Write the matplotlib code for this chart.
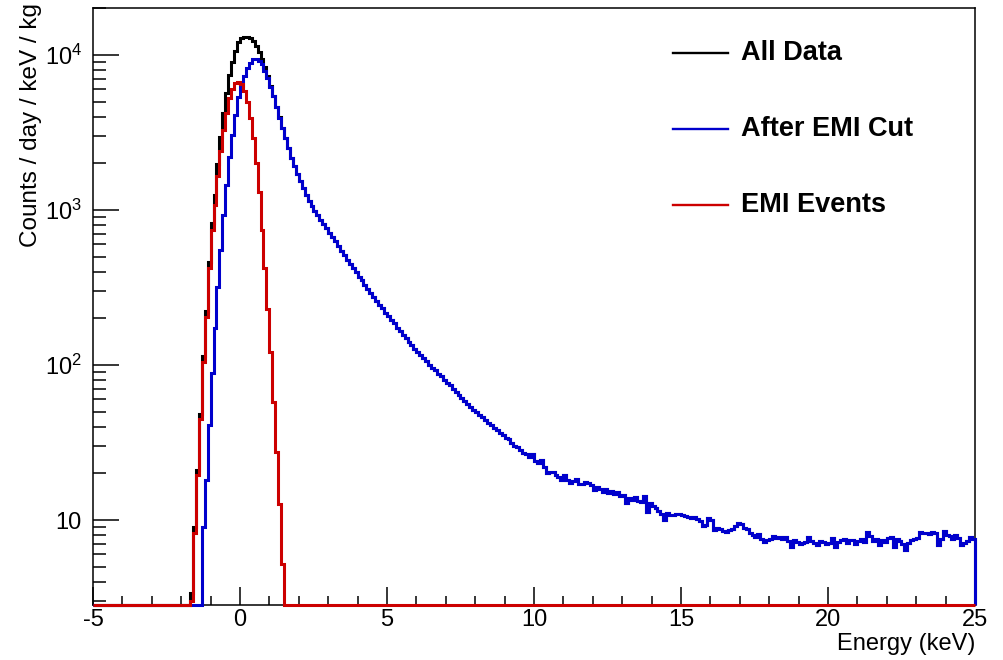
import numpy as np
import matplotlib
matplotlib.use("Agg")
import matplotlib.pyplot as plt
from matplotlib.ticker import FixedLocator, FixedFormatter, NullFormatter

plt.rcParams['font.family'] = ['Liberation Sans', 'DejaVu Sans']
plt.rcParams['mathtext.fontset'] = 'custom'
plt.rcParams['mathtext.rm'] = 'Liberation Sans'
plt.rcParams['mathtext.it'] = 'Liberation Sans:italic'
plt.rcParams['mathtext.bf'] = 'Liberation Sans:bold'
plt.rcParams['axes.unicode_minus'] = False

# ---------------- data ----------------
energy_min_keV = -5.0
energy_max_keV = 25.0
bin_width_keV = 0.1

# EMI events: first bin starts at -1.7 keV
emi_start_keV = -1.7
emi_events = [3.0, 8.2, 19.5, 45, 105, 205, 420, 740, 1070, 1650,
              2400, 3300, 4250, 5250, 6000, 6550, 6700, 6500, 5850, 4950,
              3900, 2900, 2000, 1300, 743, 423, 230, 121, 58, 27.5,
              12.7, 5.2]

# After EMI cut: first bin starts at -1.3 keV
after_start_keV = -1.3
after_emi_cut = [
    9, 18, 41, 89, 173, 318, 552, 929, 1450, 2200,
    3050, 4100, 5360, 6300, 7300, 8200, 8900, 9400, 9450, 9200,
    8700, 7900, 7100, 6200, 5400, 4600, 3950, 3400, 2900, 2500,
    2180, 1920, 1700, 1530, 1380, 1250, 1150, 1060, 990, 925,
    865,
    815, 760, 712, 668, 630, 588, 545, 512, 478, 450,
    425, 398, 372, 352, 330, 311, 290, 276, 258, 244,
    232, 218, 207, 194, 186, 174, 166, 157, 150, 141,
    135, 127, 122, 116, 111, 106, 100, 96, 93, 88,
    85, 80, 77, 74, 70, 67, 64, 61, 59, 56,
    54, 51.5, 50, 47.5, 46, 44.5, 42.5, 41, 39.5, 38,
    36.5, 35.5, 34, 33.5, 31.5, 30, 29.5, 28.5, 27, 26.5,
    25.5, 26.5, 24, 23.5, 24.5, 22, 20, 20.5, 20.5, 19.5,
    19.0, 18.2, 19.5, 18.0, 17.4, 17.9, 18.3, 17.2, 17.0, 17.6,
    17.3, 16.8, 15.6, 16.4, 15.9, 15.2, 15.8, 15.0, 15.4, 14.7,
    15.1, 14.2, 14.6, 12.9, 13.8, 13.5, 14.0, 13.2, 13.0, 14.2,
    11.2, 12.9, 12.4, 12.0, 11.5, 11.0, 10.0, 11.1, 10.8, 10.7,
    10.9, 11.0, 10.8, 10.6, 10.5, 10.3, 10.4, 10.1, 9.9, 9.1,
    9.3, 10.3, 10.0, 8.6, 8.9, 8.7, 8.5, 8.4, 8.6, 8.8,
    9.2, 9.6, 9.4, 8.9, 8.7, 8.3, 8.0, 7.8, 8.1, 7.6,
    7.2, 7.4, 7.6, 7.9, 7.7, 7.8, 7.5, 7.8, 7.3, 6.7,
    7.4, 7.2, 7.0, 7.1, 7.2, 7.8, 7.3, 7.1, 6.9, 7.3,
    7.2, 7.0, 7.1, 7.7, 6.7, 7.2, 7.4, 7.6, 7.1, 7.4,
    7.4, 7.0, 7.3, 7.6, 7.2, 8.4, 7.9, 7.3, 7.6, 6.9,
    7.4, 7.2, 7.7, 7.8, 6.7, 7.5, 7.3, 7.0, 6.4, 7.1,
    7.4, 7.6, 7.7, 8.4, 8.2, 8.3, 8.1, 8.4, 8.3, 6.9,
    7.6, 8.5, 8.0, 7.9, 7.6, 8.0, 7.7, 6.9, 7.1, 7.3, 7.8, 7.6]

# All data in the peak region (-1.7 .. 1.5 keV); above that it equals the after-cut spectrum
all_start_keV = -1.7
all_data_peak = [3.4, 9.0, 21, 48, 115, 223, 461, 829, 1243, 1968,
                 2952, 4229, 5700, 7450, 9050, 10650, 12060, 12800, 13150, 13150,
                 12800, 12300, 11450, 10500, 9443, 8323, 7330, 6321, 5458, 4628,
                 3963, 3405]

legend_labels = ["All Data", "After EMI Cut", "EMI Events"]
y_tick_values = [10, 100, 1000, 10000]
y_tick_labels = ["10", "$10^{2}$", "$10^{3}$", "$10^{4}$"]

# ---------------- build histograms ----------------
nbins = int(round((energy_max_keV - energy_min_keV) / bin_width_keV))
edges = np.linspace(energy_min_keV, energy_max_keV, nbins + 1)


def fill(start, vals):
    arr = np.zeros(nbins)
    i0 = int(round((start - energy_min_keV) / bin_width_keV))
    arr[i0:i0 + len(vals)] = vals
    return arr


emi = fill(emi_start_keV, emi_events)
after = fill(after_start_keV, after_emi_cut)
alld = after.copy()
i0 = int(round((all_start_keV - energy_min_keV) / bin_width_keV))
alld[i0:i0 + len(all_data_peak)] = all_data_peak

ymin, ymax = 2.83, 20100

fig = plt.figure(figsize=(10.04, 6.6), dpi=100)
ax = fig.add_axes([0.0926, 0.0833, 0.8785, 0.9046])
ax.set_yscale('log')
ax.set_xlim(energy_min_keV, energy_max_keV)
ax.set_ylim(ymin, ymax)

colors = ['#000000', '#0000cc', '#cc0000']
for vals, c in zip([alld, after, emi], colors):
    ax.stairs(np.maximum(vals, ymin), edges, baseline=ymin, color=c,
              lw=2.2, clip_on=False, zorder=3)

# ticks
ax.xaxis.set_major_locator(FixedLocator(np.arange(-5, 26, 5)))
ax.xaxis.set_minor_locator(FixedLocator(np.arange(-5, 26, 1)))
ax.tick_params(axis='x', which='major', direction='in', length=13, width=1.1,
               labelsize=17, pad=3, top=False)
ax.tick_params(axis='x', which='minor', direction='in', length=6.5, width=1.1, top=False)

ax.yaxis.set_major_locator(FixedLocator(y_tick_values))
ax.yaxis.set_major_formatter(FixedFormatter(y_tick_labels))
minor_y = [m * 10 ** d for d in range(0, 5) for m in range(2, 10)]
minor_y = [v for v in minor_y if ymin <= v <= ymax]
ax.yaxis.set_minor_locator(FixedLocator(minor_y))
ax.yaxis.set_minor_formatter(NullFormatter())
ax.tick_params(axis='y', which='major', direction='in', length=19, width=1.1,
               labelsize=17, pad=8, right=False)
ax.tick_params(axis='y', which='minor', direction='in', length=9.5, width=1.1, right=False)

for s in ax.spines.values():
    s.set_linewidth(1.1)

# legend (manual, ROOT-like)
leg_y = [0.9246, 0.7973, 0.670]
for lab, c, yy in zip(legend_labels, colors, leg_y):
    ax.plot([0.6576, 0.72], [yy, yy], transform=ax.transAxes, color=c, lw=1.7)
    ax.text(0.7347, yy, lab, transform=ax.transAxes, fontsize=19.5,
            fontweight='bold', va='center', ha='left')

ax.set_xlabel('Energy (keV)', fontsize=17)
ax.xaxis.set_label_coords(1.0, -0.047)
ax.xaxis.label.set_ha('right')
ax.xaxis.label.set_va('top')

ax.set_ylabel('Counts / day / keV / kg', fontsize=17.5, loc='top')
ax.yaxis.set_label_coords(-0.058, 1.008)

fig.savefig('out.png', dpi=100)
